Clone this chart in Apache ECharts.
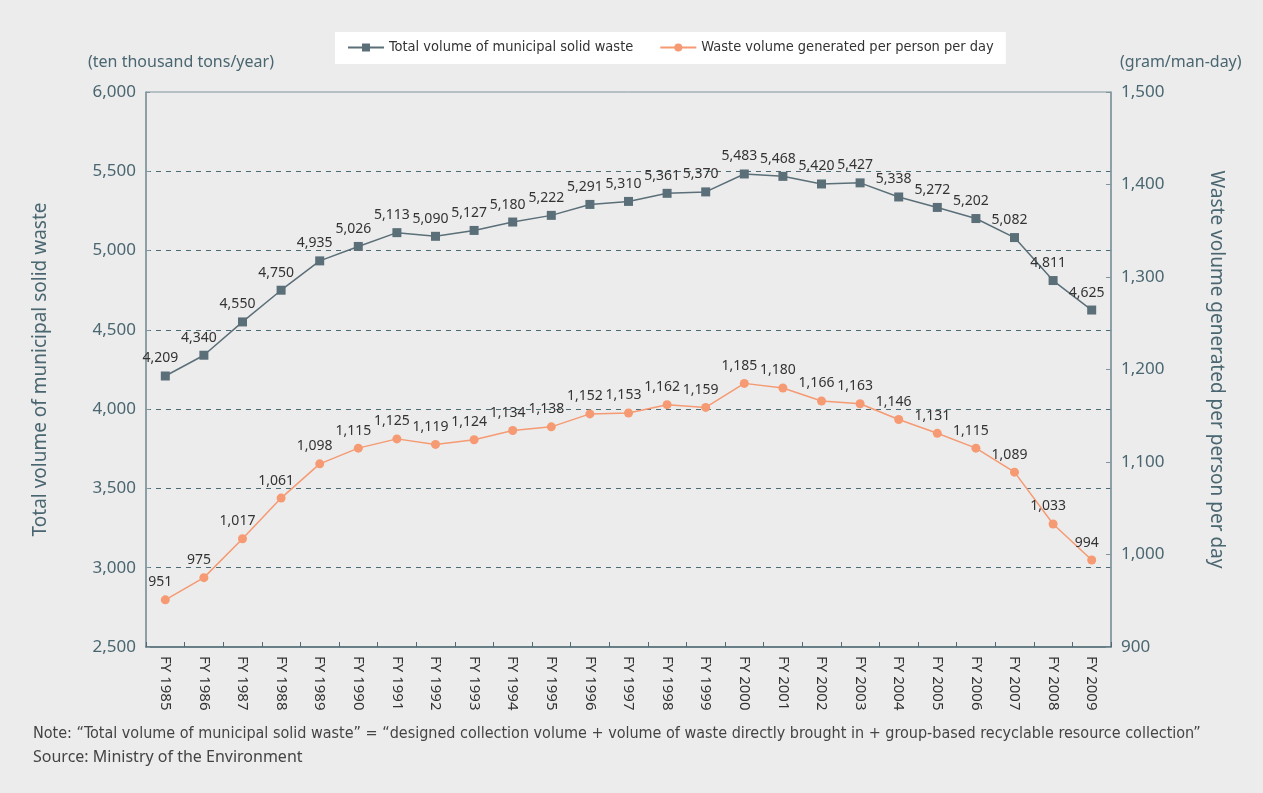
<!DOCTYPE html>
<html>
<head>
<meta charset="utf-8">
<script src="https://cdn.jsdelivr.net/npm/echarts@6/dist/echarts.min.js"></script>
<style>
html, body { margin: 0; padding: 0; background: #ececec; }
#chart { width: 1263px; height: 793px; }
</style>
</head>
<body>
<div id="chart"></div>
<script>
// data
var years = ['FY 1985','FY 1986','FY 1987','FY 1988','FY 1989','FY 1990','FY 1991','FY 1992','FY 1993','FY 1994',
  'FY 1995','FY 1996','FY 1997','FY 1998','FY 1999','FY 2000','FY 2001','FY 2002','FY 2003','FY 2004',
  'FY 2005','FY 2006','FY 2007','FY 2008','FY 2009'];
var totalWaste = [4209, 4340, 4550, 4750, 4935, 5026, 5113, 5090, 5127, 5180, 5222, 5291, 5310, 5361, 5370,
  5483, 5468, 5420, 5427, 5338, 5272, 5202, 5082, 4811, 4625];
var perPerson = [951, 975, 1017, 1061, 1098, 1115, 1125, 1119, 1124, 1134, 1138, 1152, 1153, 1162, 1159,
  1185, 1180, 1166, 1163, 1146, 1131, 1115, 1089, 1033, 994];

var axisColor = '#4a6670';
var lineColor = '#7f959c';
var narrow = '"DejaVu Sans Condensed", "Roboto"';
var fmt = function (v) { return Number(v).toLocaleString('en-US'); };

var chart = echarts.init(document.getElementById('chart'));
chart.setOption({
  backgroundColor: '#ececec',
  textStyle: { fontFamily: 'Noto Sans' },
  legend: {
    top: 32,
    left: 335,
    width: 667,
    padding: [8, 12, 9, 12],
    backgroundColor: '#ffffff',
    itemWidth: 36,
    itemHeight: 10,
    itemGap: 26,
    textStyle: { fontFamily: narrow, fontSize: 14.5, color: '#333' },
    data: ['Total volume of municipal solid waste', 'Waste volume generated per person per day']
  },
  graphic: [
    { type: 'text', left: 88, top: 54, style: { text: '(ten thousand tons/year)', fill: axisColor, font: '16px "Noto Sans"' } },
    { type: 'text', left: 1120, top: 54, style: { text: '(gram/man-day)', fill: axisColor, font: '16px "Noto Sans"' } },
    { type: 'text', left: 33, top: 726, style: { text: 'Note: \u201cTotal volume of municipal solid waste\u201d = \u201cdesigned collection volume + volume of waste directly brought in + group-based recyclable resource collection\u201d', fill: '#444', font: '16px ' + narrow } },
    { type: 'text', left: 33, top: 749, style: { text: 'Source: Ministry of the Environment', fill: '#444', font: '16px "Noto Sans"' } }
  ],
  grid: {
    left: 146, right: 152, top: 92, bottom: 146,
    show: true, borderColor: lineColor, borderWidth: 1
  },
  xAxis: {
    type: 'category',
    data: years,
    boundaryGap: true,
    axisLine: { lineStyle: { color: '#4f6a73', width: 1.5 } },
    axisTick: { show: true, inside: true, length: 5, lineStyle: { color: '#4f6a73' } },
    axisLabel: { rotate: -90, color: '#333', fontSize: 15, margin: 9 }
  },
  yAxis: [
    {
      type: 'value', min: 2500, max: 6000, interval: 500,
      name: 'Total volume of municipal solid waste',
      nameLocation: 'middle', nameRotate: 90, nameGap: 96,
      nameTextStyle: { color: axisColor, fontSize: 19 },
      axisLine: { show: true, lineStyle: { color: lineColor, width: 1.5 } },
      axisTick: { show: true, inside: true, length: 4, lineStyle: { color: lineColor } },
      axisLabel: { color: axisColor, fontSize: 17, margin: 10, formatter: fmt },
      splitLine: { show: true, showMinLine: false, showMaxLine: false, lineStyle: { color: '#4d6b74', type: [5, 5], width: 1 } }
    },
    {
      type: 'value', min: 900, max: 1500, interval: 100,
      name: 'Waste volume generated per person per day',
      nameLocation: 'middle', nameRotate: -90, nameGap: 96,
      nameTextStyle: { color: axisColor, fontSize: 19 },
      axisLine: { show: true, lineStyle: { color: lineColor, width: 1.5 } },
      axisTick: { show: true, inside: true, length: 5, lineStyle: { color: lineColor } },
      axisLabel: { color: axisColor, fontSize: 17, margin: 10, formatter: fmt },
      splitLine: { show: false }
    }
  ],
  series: [
    {
      name: 'Total volume of municipal solid waste',
      type: 'line',
      yAxisIndex: 0,
      data: totalWaste,
      symbol: 'rect',
      symbolSize: 9,
      lineStyle: { color: '#5b6f79', width: 1.5 },
      itemStyle: { color: '#5b6f79' },
      label: { show: true, position: 'top', offset: [-5, -1], color: '#333', fontSize: 14, formatter: function (p) { return fmt(p.value); } }
    },
    {
      name: 'Waste volume generated per person per day',
      type: 'line',
      yAxisIndex: 1,
      data: perPerson,
      symbol: 'circle',
      symbolSize: 9,
      lineStyle: { color: '#f59a72', width: 1.5 },
      itemStyle: { color: '#f59a72' },
      label: { show: true, position: 'top', offset: [-5, -1], color: '#333', fontSize: 14, formatter: function (p) { return fmt(p.value); } }
    }
  ]
});
</script>
</body>
</html>
